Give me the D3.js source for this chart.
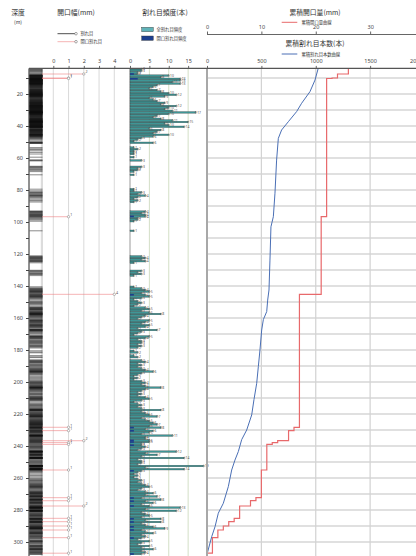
<!DOCTYPE html>
<html><head><meta charset="utf-8">
<script src="https://cdn.jsdelivr.net/npm/d3@7"></script>
<style>
body{margin:0;background:#fff}
svg{display:block;font-family:"Noto Sans CJK JP","Noto Sans",sans-serif}
</style></head><body>
<svg id="c" width="416" height="556"></svg>
<script>
// fracture counts per 1 m bin, first bin starts at binStart (m)
const binStart = 4;
const freqAll = [
  // 4 - 47 m
  3,3,2,2,10,8,13,13,11,13, 7,6,5,7,8,10,12,9,5,6,
  7,9,8,12,10,9,11,17,10,7, 6,8,11,15,9,10,14,5,8,7,
  6,10,6,3,
  // 48 - 99 m
  2,1,6,0,0,1,2,1,1,1, 0,1,0,3,0,0,0,3,2,2,
  1,0,1,0,0,0,0,0,0,0, 0,1,1,3,2,4,2,1,2,1,
  0,0,0,0,0,4,3,4,4,2, 2,1,
  // 100 - 148 m
  0,0,0,0,0,1,0,0,0,0, 0,0,0,0,0,0,0,0,0,0,
  0,3,4,3,4,1,0,0,0,0, 3,2,3,1,0,0,0,0,0,0,
  1,3,4,5,3,4,5,3,1,
  // 149 - 223 m
  2,3,2,1,4,5,3,5,8,4, 3,2,5,4,3,5,4,2,7,3,
  2,1,5,4,2,3,3,2,3,2, 0,1,2,0,1,2,0,3,4,2,
  3,2,3,4,6,3,2,1,2,1, 3,4,3,4,8,4,3,2,3,2,
  4,5,3,1,2,3,2,3,8,3, 4,5,7,3,4,
  // 224 - 307 m
  5,6,7,5,8,4,6,5,3,11, 4,4,5,5,3,3,4,3,2,12,
  4,7,3,14,2,3,3,2,19,4, 14,3,2,1,2,1,2,3,2,3,
  4,5,3,2,4,6,4,7,3,8, 4,6,3,5,13,4,12,3,4,5,
  3,8,4,8,3,4,6,9,3,4, 6,3,4,3,2,5,3,2,5,3,
  6,3,4,3
];
// open fractures: depth (m) and aperture (mm)
const openDepth = [7.5,10,10.3,96.7,145.2,228.3,230.4,236.7,237.9,239,255,272.3,274.2,277.5,285.2,287.3,290,292.5,297.3,307];
const openWidth = [2,1,1,1,4,1,1,2,1,1,1,1,1,2,1,1,1,1,1,1];
// cumulative fracture count curve (counted from the bottom of the hole)
const cumDepth = [3.9,11.3,18.5,25.8,31,37.3,42.5,47.7,61.3,82,96.7,103,123.8,142.5,148.8,156,161,167.5,180,190.4,200.8,211,220.6,230,236,243.5,248.8,255,265.4,275.8,282,290.4,296.7,307,308.5];
const cumCount = [1023,993,947,870,824,748,686,656,640,625,610,588,579,570,558,549,518,503,487,472,457,432,411,365,319,288,257,227,196,150,104,74,43,3,0];

const depthTicks = d3.range(20, 301, 20);
const depthMinor = d3.range(10, 301, 10);
const apertureTicks = [0,1,2,3,4];
const freqTicks = [0,5,10,15];
const cumApertureTicks = [0,10,20,30];
const cumCountTicks = [0,500,1000,1500,2000];

const svg = d3.select("#c");
const W = 416, H = 556;
const topDepth = 4, bottomDepth = 310;

const y = d3.scaleLinear().domain([0, 300]).range([62, 542]);
const yTop = y(topDepth), yBot = H;
const xAp = d3.scaleLinear().domain([0, 4]).range([53.3, 114.3]);
const xFreq = d3.scaleLinear().domain([0, 20]).range([130, 207.5]);
const xCumAp = d3.scaleLinear().domain([0, 40]).range([207, 424.5]);
const xCumCount = d3.scaleLinear().domain([0, 2000]).range([207, 424.5]);

const txt = (g, x, yy, s, size, anchor, fill) =>
  g.append("text").attr("x", x).attr("y", yy).text(s)
   .attr("font-size", size).attr("text-anchor", anchor || "start").attr("fill", fill || "#333");

// ---------- headers ----------
const hdr = svg.append("g");
txt(hdr, 18, 15, "深度", 6.8, "middle");
txt(hdr, 18, 24, "(m)", 5, "middle");
txt(hdr, 76, 15, "開口幅(mm)", 6.8, "middle");
txt(hdr, 165, 15, "割れ目頻度(本)", 6.8, "middle");
txt(hdr, 315, 15, "累積開口量(mm)", 6.8, "middle");
txt(hdr, 315, 46, "累積割れ目本数(本)", 6.8, "middle");

// fracture legend
[["割れ目", "#222", 33.7], ["開口割れ目", "#f2a0a0", 41.7]].forEach(([lab, c, yy]) => {
  hdr.append("line").attr("x1", 57.5).attr("x2", 75).attr("y1", yy).attr("y2", yy)
    .attr("stroke", c).attr("stroke-width", 0.8);
  hdr.append("circle").attr("cx", 76).attr("cy", yy).attr("r", 1.3)
    .attr("fill", "#fff").attr("stroke", "#555").attr("stroke-width", 0.5);
  txt(hdr, 80.5, yy + 1.5, lab, 4.3);
});
// frequency legend
[["全割れ目頻度", "#5fb3b8", 27.3], ["開口割れ目頻度", "#1c3f8f", 36]].forEach(([lab, c, yy]) => {
  hdr.append("rect").attr("x", 141.7).attr("y", yy).attr("width", 11.6).attr("height", 4.4)
    .attr("fill", c).attr("stroke", "#333").attr("stroke-width", 0.4);
  txt(hdr, 156.5, yy + 3.8, lab, 4.3);
});
// cumulative legends
hdr.append("line").attr("x1", 281.7).attr("x2", 297.3).attr("y1", 22.3).attr("y2", 22.3)
  .attr("stroke", "#e8696b").attr("stroke-width", 1);
txt(hdr, 301.5, 24, "累積開口量曲線", 4.3);
hdr.append("line").attr("x1", 281.7).attr("x2", 297.3).attr("y1", 54).attr("y2", 54)
  .attr("stroke", "#4a6fb5").attr("stroke-width", 1);
txt(hdr, 301.5, 55.7, "累積割れ目本数曲線", 4.3);

// cumulative aperture axis (upper)
const axAp = svg.append("g").attr("transform", "translate(0,34.5)")
  .call(d3.axisTop(xCumAp).tickValues(cumApertureTicks).tickSize(3).tickFormat(d3.format("d")));
axAp.select(".domain").attr("d", `M207,0H${W}`).attr("stroke", "#666");
axAp.selectAll(".tick line").attr("stroke", "#666");
axAp.selectAll(".tick text").attr("font-size", 5.5).attr("fill", "#444").attr("font-family", "Noto Sans");

// ---------- plot area top axis ----------
const topAxis = (scale, ticks) => {
  const g = svg.append("g").attr("transform", `translate(0,${yTop})`)
    .call(d3.axisTop(scale).tickValues(ticks).tickSize(2.5).tickFormat(d3.format("d")));
  g.select(".domain").remove();
  g.selectAll(".tick line").attr("stroke", "#666");
  g.selectAll(".tick text").attr("font-size", 5.5).attr("fill", "#444").attr("font-family", "Noto Sans");
  return g;
};
topAxis(xAp, apertureTicks);
topAxis(xFreq, freqTicks);
const cntAx = topAxis(xCumCount, cumCountTicks);
// the last label is held against the right edge of the panel
cntAx.selectAll(".tick text").filter(d => d === 2000).attr("text-anchor", "start").attr("dx", -15);

// ---------- grid ----------
const grid = svg.append("g");
grid.selectAll(".hg").data(depthMinor).join("line")
  .attr("x1", 207).attr("x2", W).attr("y1", d => y(d)).attr("y2", d => y(d))
  .attr("stroke", "#d6d6d6").attr("stroke-width", 1.6);
grid.selectAll(".vc").data(cumCountTicks.slice(1)).join("line")
  .attr("x1", d => xCumCount(d)).attr("x2", d => xCumCount(d)).attr("y1", yTop).attr("y2", yBot)
  .attr("stroke", "#d2d2d2").attr("stroke-width", 1.2);
grid.selectAll(".va").data(apertureTicks).join("line")
  .attr("x1", d => xAp(d)).attr("x2", d => xAp(d)).attr("y1", yTop).attr("y2", yBot)
  .attr("stroke", "#cfcfcf").attr("stroke-width", 0.8);
grid.selectAll(".vf").data(freqTicks.slice(1)).join("line")
  .attr("x1", d => xFreq(d)).attr("x2", d => xFreq(d)).attr("y1", yTop).attr("y2", yBot)
  .attr("stroke", "#d3dfc6").attr("stroke-width", 1);
grid.append("line").attr("x1", xFreq(0)).attr("x2", xFreq(0)).attr("y1", yTop).attr("y2", yBot)
  .attr("stroke", "#9a9a9a").attr("stroke-width", 1);

// ---------- depth log ----------
const bins = freqAll.map((n, i) => ({ d: binStart + i, n }));
const logLines = [];
bins.forEach(b => { for (let k = 0; k < b.n; k++) logLines.push(b.d + (k + 0.5) / b.n); });
svg.append("rect").attr("x", 40.8).attr("y", yTop).attr("width", 2.2).attr("height", yBot - yTop).attr("fill", "#dcdcdc");
svg.append("g").selectAll("line").data(logLines).join("line")
  .attr("x1", 29.5).attr("x2", 42.5).attr("y1", d => y(d)).attr("y2", d => y(d))
  .attr("stroke", "#111").attr("stroke-opacity", 0.7).attr("stroke-width", 0.7);

// depth axis
const ax = svg.append("g").attr("transform", "translate(29,0)")
  .call(d3.axisLeft(y).tickValues(depthMinor).tickSize(3).tickFormat(d => d % 20 === 0 ? d : ""));
ax.select(".domain").attr("d", `M0,${yTop}V${yBot}`).attr("stroke", "#222");
ax.selectAll(".tick line").attr("stroke", "#444");
ax.selectAll(".tick text").attr("font-size", 5.5).attr("fill", "#444").attr("font-family", "Noto Sans");

// ---------- open fracture apertures ----------
const opens = openDepth.map((d, i) => ({ d, w: openWidth[i] }));
const ag = svg.append("g");
ag.selectAll("line").data(opens).join("line")
  .attr("x1", 42).attr("x2", d => xAp(d.w)).attr("y1", d => y(d.d)).attr("y2", d => y(d.d))
  .attr("stroke", "#ee7f80").attr("stroke-opacity", 0.65).attr("stroke-width", 0.9);
ag.selectAll("circle").data(opens).join("circle")
  .attr("cx", d => xAp(d.w)).attr("cy", d => y(d.d)).attr("r", 1.2)
  .attr("fill", "#fff").attr("stroke", "#777").attr("stroke-width", 0.5);
ag.selectAll("text").data(opens).join("text")
  .attr("x", d => xAp(d.w) + 1.8).attr("y", d => y(d.d) - 0.6).text(d => d.w)
  .attr("font-size", 3.6).attr("fill", "#555").attr("font-family", "Noto Sans");

// ---------- frequency bars ----------
const openBins = d3.rollup(openDepth, v => v.length, d => Math.floor(d));
const fg = svg.append("g");
const nz = bins.filter(b => b.n > 0);
fg.selectAll("rect.a").data(nz).join("rect")
  .attr("x", xFreq(0)).attr("y", d => y(d.d)).attr("width", d => xFreq(d.n) - xFreq(0))
  .attr("height", y(1) - y(0)).attr("fill", "#3f9696").attr("stroke", "#2e3b3b").attr("stroke-width", 0.3);
fg.selectAll("rect.o").data(Array.from(openBins, ([d, n]) => ({ d, n }))).join("rect")
  .attr("x", xFreq(0)).attr("y", d => y(d.d)).attr("width", d => xFreq(d.n) - xFreq(0))
  .attr("height", y(1) - y(0)).attr("fill", "#1c3f8f");
fg.selectAll("circle").data(nz).join("circle")
  .attr("cx", d => xFreq(d.n)).attr("cy", d => y(d.d + 0.5)).attr("r", 0.9)
  .attr("fill", "none").attr("stroke", "#555").attr("stroke-width", 0.4);
fg.selectAll("text").data(nz).join("text")
  .attr("x", d => xFreq(d.n) + 1.3).attr("y", d => y(d.d + 0.5) + 1.2).text(d => d.n)
  .attr("font-size", 3.4).attr("fill", "#555").attr("font-family", "Noto Sans");

// ---------- cumulative curves ----------
const order = d3.range(opens.length).sort((a, b) => openDepth[b] - openDepth[a]);
let acc = 0;
const stepPts = [[bottomDepth, 0]];
order.forEach(i => { stepPts.push([openDepth[i], acc]); acc += openWidth[i]; stepPts.push([openDepth[i], acc]); });
stepPts.push([topDepth, acc]);
svg.append("path").datum(stepPts)
  .attr("d", d3.line().x(p => xCumAp(p[1])).y(p => y(p[0])))
  .attr("fill", "none").attr("stroke", "#e8696b").attr("stroke-width", 1.2);

svg.append("path").datum(cumDepth.map((d, i) => [d, cumCount[i]]))
  .attr("d", d3.line().x(p => xCumCount(p[1])).y(p => y(p[0])))
  .attr("fill", "none").attr("stroke", "#4a6fb5").attr("stroke-width", 1);

// left edge of cumulative panel and top border
svg.append("line").attr("x1", 207).attr("x2", 207).attr("y1", yTop).attr("y2", yBot)
  .attr("stroke", "#a8a8a8").attr("stroke-width", 2);
svg.append("line").attr("x1", 29).attr("x2", W).attr("y1", yTop).attr("y2", yTop)
  .attr("stroke", "#555").attr("stroke-width", 1.1);
</script></body></html>
